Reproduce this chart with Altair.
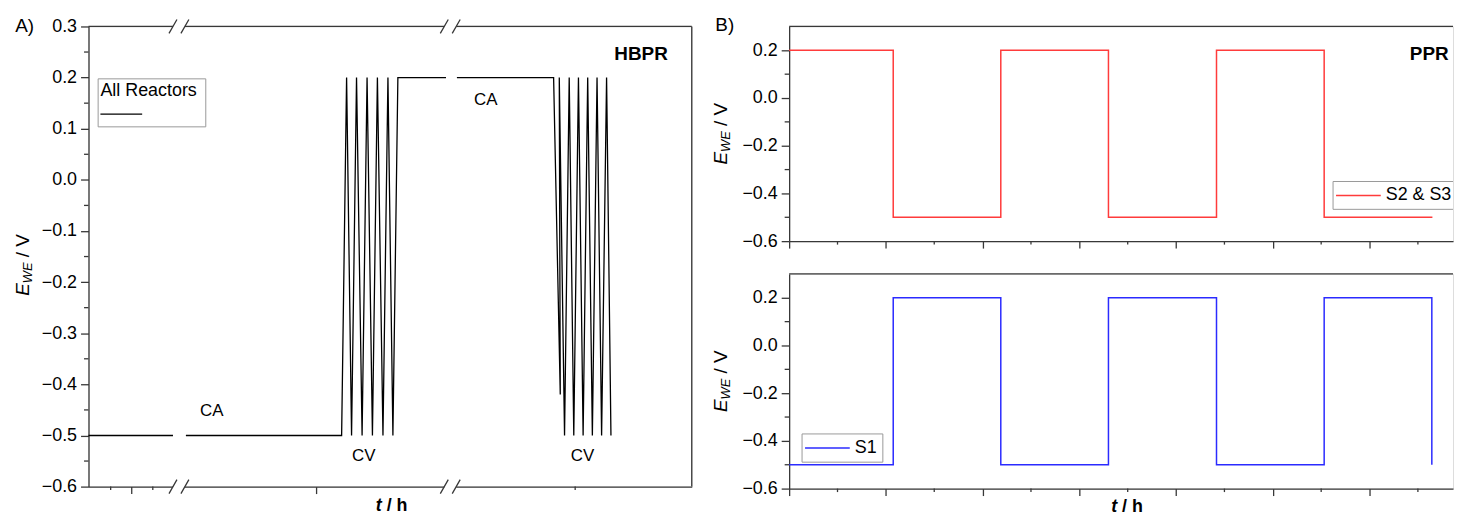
import altair as alt
import pandas as pd

FONT = "Liberation Sans"
AXC = "#383838"
LAB = 18

# ---------------- Panel A (HBPR) : t in arbitrary units along the broken axis
A_W, A_H = 607, 463
a_seg0_t = [0, 85]
a_seg0_E = [-0.5, -0.5]
a_seg1_t = [98, 254.7, 259.7, 264.7, 269.7, 275.3, 280.3, 285.7, 290.7, 296.3, 301.3, 306.3, 311.3, 359.7]
a_seg1_E = [-0.5, -0.5, 0.2, -0.5, 0.2, -0.5, 0.2, -0.5, 0.2, -0.5, 0.2, -0.5, 0.2, 0.2]
a_seg2_t = [370.7, 468, 474.7, 473.7, 479, 483.7, 488.3, 493, 497.7, 502.3, 507, 511.7, 516.3, 521.3, 525.7]
a_seg2_E = [0.2, 0.2, -0.42, 0.2, -0.5, 0.2, -0.5, 0.2, -0.5, 0.2, -0.5, 0.2, -0.5, 0.2, -0.5]
a_ann_text = ["CA", "CV", "CA", "CV"]
a_ann_t = [124, 277, 399.7, 497]
a_ann_E = [-0.452, -0.541, 0.156, -0.541]
a_name = ["HBPR"]
a_name_t = [556]
a_name_E = [0.2456]
a_breaks = [91, 364]
a_xmajor = [43, 228.7]
a_xminor = [22.3, 64.7, 489.7]
a_ymajor = [-0.6, -0.5, -0.4, -0.3, -0.2, -0.1, 0.0, 0.1, 0.2, 0.3]
a_yminor = [-0.55, -0.45, -0.35, -0.25, -0.15, -0.05, 0.05, 0.15, 0.25]

# ---------------- Panel B (PPR)
B_W, B_H = 668, 216
b_xmax = 6.863
b_switch = [0, 1.076, 2.188, 3.301, 4.418, 5.531, 6.650]
red_levels = [0.2, -0.5, 0.2, -0.5, 0.2, -0.5]
blue_switch = [0, 1.076, 2.188, 3.301, 4.418, 5.531, 6.644]
blue_levels = [-0.5, 0.2, -0.5, 0.2, -0.5, 0.2]
blue_end = [-0.5]
b_xmajor = [0, 1, 2, 3, 4, 5, 6]
b_xminor = [0.5, 1.5, 2.5, 3.5, 4.5, 5.5, 6.5]
b_ymajor = [-0.6, -0.4, -0.2, 0.0, 0.2]
b_yminor = [-0.5, -0.3, -0.1, 0.1]
b_name = ["PPR"]
b_name_t = [6.617]
b_name_E = [0.186]

one = pd.DataFrame({"k": [0]})


def seg_df(ts, Es, seg):
    return pd.DataFrame({"t": ts, "E": Es, "seg": seg, "i": list(range(len(ts)))})


def step_df(sw, lev, end=None):
    ts, Es = [], []
    for k, L in enumerate(lev):
        ts += [sw[k], sw[k + 1]]
        Es += [L, L]
    if end:
        ts.append(sw[-1])
        Es.append(end[0])
    return pd.DataFrame({"t": ts, "E": Es, "i": list(range(len(ts)))})


def ptext(txt, x, y, size=LAB, style="normal", weight="normal", angle=0, align="left", baseline="middle"):
    return alt.Chart(one).mark_text(
        text=txt, font=FONT, fontSize=size, fontStyle=style, fontWeight=weight,
        angle=angle, align=align, baseline=baseline, color="black"
    ).encode(x=alt.value(x), y=alt.value(y))


def prule(x, y, x2=None, y2=None, color=AXC, width=1.3):
    enc = dict(x=alt.value(x), y=alt.value(y))
    if x2 is not None:
        enc["x2"] = alt.value(x2)
    if y2 is not None:
        enc["y2"] = alt.value(y2)
    return alt.Chart(one).mark_rule(color=color, strokeWidth=width).encode(**enc)


def ytitle(xbase, ystart):
    # E_WE / V, rotated
    return [
        ptext("E", xbase, ystart, size=19, style="italic", angle=270, baseline="alphabetic"),
        ptext("WE", xbase + 3, ystart - 12.7, size=13, style="italic", angle=270, baseline="alphabetic"),
        ptext("/ V", xbase, ystart - 12.7 - 20.9 - 5.3, size=19, angle=270, baseline="alphabetic"),
    ]


def xtitle(x, y):
    return [
        ptext("t", x, y, size=18, style="italic", weight="bold", baseline="alphabetic"),
        ptext("/ h", x + 11, y, size=18, weight="bold", baseline="alphabetic"),
    ]


def axis(values, size, labels=True):
    return alt.Axis(values=values, tickSize=size, labels=labels, format=".1f", title=None, grid=False,
                    domainColor=AXC, tickColor=AXC, domainWidth=1.3, tickWidth=1.3,
                    labelFont=FONT, labelFontSize=LAB, labelColor="black", labelPadding=4)


SLASH = "M-1,0.7L-0.2,-0.7M0.2,0.7L1,-0.7"

# ---------------- build panel A
xa = alt.Scale(domain=[0, A_W], nice=False, zero=False)
ya = alt.Scale(domain=[-0.6, 0.3], nice=False, zero=False)
XA = axis(a_xmajor, 7, labels=False)
YA = axis(a_ymajor, 8)


def xA(f="t:Q"):
    return alt.X(f, scale=xa, axis=XA)


def yA(f="E:Q"):
    return alt.Y(f, scale=ya, axis=YA)


dfa = pd.concat([seg_df(a_seg0_t, a_seg0_E, 0), seg_df(a_seg1_t, a_seg1_E, 1), seg_df(a_seg2_t, a_seg2_E, 2)])

lineA = alt.Chart(dfa).mark_line(color="black", strokeWidth=1.3).encode(
    x=xA(), y=yA(), detail="seg:N", order="i:Q")
yminA = alt.Chart(pd.DataFrame({"E": a_yminor})).mark_rule(color=AXC, strokeWidth=1.3).encode(
    y=yA(), x=alt.value(0), x2=alt.value(-4.5))
xminA = alt.Chart(pd.DataFrame({"t": a_xminor})).mark_rule(color=AXC, strokeWidth=1.3).encode(
    x=xA(), y=alt.value(A_H), y2=alt.value(A_H + 3.5))
brk = pd.DataFrame({"t": a_breaks})
breaksA = []
for yy in (0, A_H):
    breaksA.append(alt.Chart(brk).mark_rule(color="white", strokeWidth=4, xOffset=-6, x2Offset=6).encode(
        x=xA(), x2="t:Q", y=alt.value(yy)))
    breaksA.append(alt.Chart(brk).mark_point(shape=SLASH, size=400, filled=False, color=AXC, strokeWidth=1.3,
                                              opacity=1).encode(x=xA(), y=alt.value(yy)))
annA = alt.Chart(pd.DataFrame({"t": a_ann_t, "E": a_ann_E, "s": a_ann_text})).mark_text(
    font=FONT, fontSize=17, color="black").encode(x=xA(), y=yA(), text="s:N")
nameA = alt.Chart(pd.DataFrame({"t": a_name_t, "E": a_name_E, "s": a_name})).mark_text(
    font=FONT, fontSize=19, fontWeight="bold", color="black").encode(x=xA(), y=yA(), text="s:N")
legA = [
    alt.Chart(one).mark_rect(fill="white", stroke="#999999", strokeWidth=1).encode(
        x=alt.value(9.7), x2=alt.value(118), y=alt.value(52.7), y2=alt.value(101)),
    ptext("All Reactors", 12, 65, size=18),
    prule(12, 88.3, x2=54, color="black", width=1.3),
]
frameA = [prule(0, 0, x2=A_W), prule(A_W, 0, y2=A_H)]

panelA = alt.layer(
    lineA, yminA, xminA, *frameA, *breaksA, annA, nameA, *legA,
    ptext("A)", -73.7, 0, size=19),
    *ytitle(-60, 271), *xtitle(289, 488),
).properties(width=A_W, height=A_H)

# ---------------- build panel B
xb = alt.Scale(domain=[0, b_xmax], nice=False, zero=False)
yb = alt.Scale(domain=[-0.6, 0.3], nice=False, zero=False)
XB = axis(b_xmajor, 7, labels=False)
YB = axis(b_ymajor, 8)


def panelB(df, color, legtxt, leg_box, top_label, with_xtitle):
    line = alt.Chart(df).mark_line(color=color, strokeWidth=1.5).encode(
        x=alt.X("t:Q", scale=xb, axis=XB), y=alt.Y("E:Q", scale=yb, axis=YB), order="i:Q")
    ymin = alt.Chart(pd.DataFrame({"E": b_yminor})).mark_rule(color=AXC, strokeWidth=1.3).encode(
        y=alt.Y("E:Q", scale=yb, axis=YB), x=alt.value(0), x2=alt.value(-4.5))
    xmin = alt.Chart(pd.DataFrame({"t": b_xminor})).mark_rule(color=AXC, strokeWidth=1.3).encode(
        x=alt.X("t:Q", scale=xb, axis=XB), y=alt.value(B_H), y2=alt.value(B_H + 3.5))
    x1, x2, y1, y2, open_right = leg_box
    leg = [alt.Chart(one).mark_rect(fill="white", opacity=1).encode(
        x=alt.value(x1), x2=alt.value(x2), y=alt.value(y1), y2=alt.value(y2)),
        prule(x1, y1, x2=x2, color="#999999", width=1),
        prule(x1, y2, x2=x2, color="#999999", width=1),
        prule(x1, y1, y2=y2, color="#999999", width=1)]
    if not open_right:
        leg.append(prule(x2, y1, y2=y2, color="#999999", width=1))
    ym = (y1 + y2) / 2
    leg += [prule(x1 + 3, ym, x2=x1 + 48, color=color, width=1.5), ptext(legtxt, x1 + 53, ym, size=18)]
    layers = [line, ymin, xmin, prule(0, 0, x2=B_W), *leg, *ytitle(-63, 139)]
    if top_label:
        layers.append(ptext("B)", -74.3, -1.7, size=19))
        layers.append(alt.Chart(pd.DataFrame({"t": b_name_t, "E": b_name_E, "s": b_name})).mark_text(
            font=FONT, fontSize=19, fontWeight="bold", color="black").encode(
            x=alt.X("t:Q", scale=xb, axis=XB), y=alt.Y("E:Q", scale=yb, axis=YB), text="s:N"))
    if with_xtitle:
        layers += xtitle(324, 239.7)
    return alt.layer(*layers).properties(width=B_W, height=B_H)


topB = panelB(step_df(b_switch, red_levels), "#ff3b3b", "S2 & S3", (547.3, B_W, 156, 184, True), True, False)
botB = panelB(step_df(blue_switch, blue_levels, blue_end), "#2b2bff", "S1", (13, 94.3, 161, 189.4, False), False, True)

chart = alt.hconcat(panelA, alt.vconcat(topB, botB, spacing=21), spacing=17).properties(
    padding={"left": 5, "top": 5, "right": 0, "bottom": 0}
).configure_view(stroke=None).configure(background="white")

chart.save("out.html", embed_options={"renderer": "svg", "actions": False})
